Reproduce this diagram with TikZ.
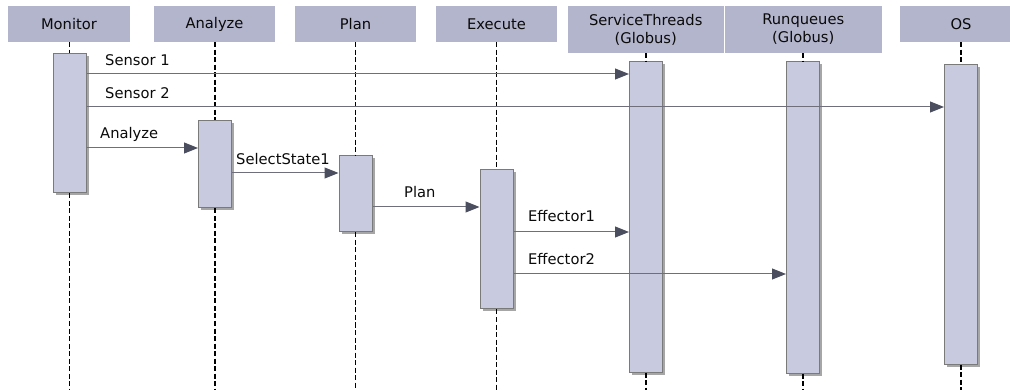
\documentclass[tikz,border=0pt]{standalone}
\usepackage{fontspec}
\setmainfont{DejaVu Sans}
\usetikzlibrary{arrows.meta,shadows}
\definecolor{hdrfill}{HTML}{B3B5CC}
\definecolor{actfill}{HTML}{C8CADF}
\definecolor{actdraw}{HTML}{7A7A7A}
\definecolor{msgline}{HTML}{6E6F7A}
\definecolor{tipc}{HTML}{4B4E5E}
\definecolor{txt}{HTML}{0A0A0A}
\tikzset{
  x=1pt, y=-1pt,
  hdr/.style={fill=hdrfill, draw=none, inner sep=0pt, align=center, text=txt,
    font=\fontsize{14.7}{18}\selectfont},
  act/.style={fill=actfill, draw=actdraw, line width=1pt, inner sep=0pt, minimum width=33pt,
    drop shadow={shadow xshift=2.5pt, shadow yshift=-2.5pt, fill=black, opacity=0.35}},
  life/.style={draw=black, line width=1.5pt, dash pattern=on 5pt off 2.5pt},
  msg/.style={draw=msgline, line width=1pt, -{Triangle[length=14pt,width=11pt,color=tipc]}},
  lbl/.style={anchor=west, inner sep=0pt, text=txt, font=\fontsize{14.7}{18}\selectfont}
}
\begin{document}
\begin{tikzpicture}
\useasboundingbox (0,0) rectangle (1010,390);
% headers
\node[hdr, minimum width=122pt, minimum height=36pt] (hMon) at (69,24) {Monitor};
\node[hdr, minimum width=121pt, minimum height=36pt] (hAna) at (214.5,24) {Analyze};
\node[hdr, minimum width=121pt, minimum height=36pt] (hPlan) at (355.5,24) {Plan};
\node[hdr, minimum width=121pt, minimum height=36pt] (hExe) at (496.5,24) {Execute};
\node[hdr, minimum width=155.5pt, minimum height=47pt] (hST) at (645.75,29.5) {ServiceThreads\\(Globus)};
\node[hdr, minimum width=157.5pt, minimum height=47pt] (hRQ) at (803.25,29.5) {Runqueues\\(Globus)};
\node[hdr, minimum width=110pt, minimum height=36pt] (hOS) at (955,24) {};
\node[text=txt, font=\fontsize{14.7}{18}\selectfont, inner sep=0pt] (tOS) at (961,24) {OS};
% activation boxes
\node[act, minimum height=139pt] (aMon) at (69.5,123.5) {};
\node[act, minimum height=87pt] (aAna) at (215,164.5) {};
\node[act, minimum height=76pt] (aPlan) at (355.5,194) {};
\node[act, minimum height=139pt] (aExe) at (496.5,239.5) {};
\node[act, minimum height=310pt] (aST) at (646,217) {};
\node[act, minimum height=311pt] (aRQ) at (803,217.5) {};
\node[act, minimum height=299pt] (aOS) at (961,214.5) {};
% lifeline ends
\coordinate (eMon) at (69.5,390);
\coordinate (eAna) at (215,390);
\coordinate (ePlan) at (355.5,390);
\coordinate (eExe) at (496.5,390);
\coordinate (eST) at (646,390);
\coordinate (eRQ) at (803,390);
\coordinate (eOS) at (961,390);
% lifelines
\draw[life] (hMon.south -| aMon.north) -- (aMon.north);
\draw[life] (aMon.south) -- (eMon);
\draw[life] (hAna.south -| aAna.north) -- (aAna.north);
\draw[life] (aAna.south) -- (eAna);
\draw[life] (hPlan.south -| aPlan.north) -- (aPlan.north);
\draw[life] (aPlan.south) -- (ePlan);
\draw[life] (hExe.south -| aExe.north) -- (aExe.north);
\draw[life] (aExe.south) -- (eExe);
\draw[life] (hST.south -| aST.north) -- (aST.north);
\draw[life] (aST.south) -- (eST);
\draw[life] (hRQ.south -| aRQ.north) -- (aRQ.north);
\draw[life] (aRQ.south) -- (eRQ);
\draw[life] (hOS.south -| aOS.north) -- (aOS.north);
\draw[life] (aOS.south) -- (eOS);
% message rows
\coordinate (y1) at (0,74);
\coordinate (y2) at (0,107);
\coordinate (y3) at (0,148);
\coordinate (y4) at (0,173);
\coordinate (y5) at (0,207);
\coordinate (y6) at (0,232);
\coordinate (y7) at (0,274);
\draw[msg] (aMon.east |- y1) -- (aST.west |- y1);
\draw[msg] (aMon.east |- y2) -- (aOS.west |- y2);
\draw[msg] (aMon.east |- y3) -- (aAna.west |- y3);
\draw[msg] (aAna.east |- y4) -- (aPlan.west |- y4);
\draw[msg] (aPlan.east |- y5) -- (aExe.west |- y5);
\draw[msg] (aExe.east |- y6) -- (aST.west |- y6);
\draw[msg] (aExe.east |- y7) -- (aRQ.west |- y7);
% labels
\node[lbl] (l1) at (105,60) {Sensor 1};
\node[lbl] (l2) at (105,93) {Sensor 2};
\node[lbl] (l3) at (100,134) {Analyze};
\node[lbl] (l4) at (236,159) {SelectState1};
\node[lbl] (l5) at (404,192) {Plan};
\node[lbl] (l6) at (528,216) {Effector1};
\node[lbl] (l7) at (528,259) {Effector2};
\end{tikzpicture}
\end{document}
